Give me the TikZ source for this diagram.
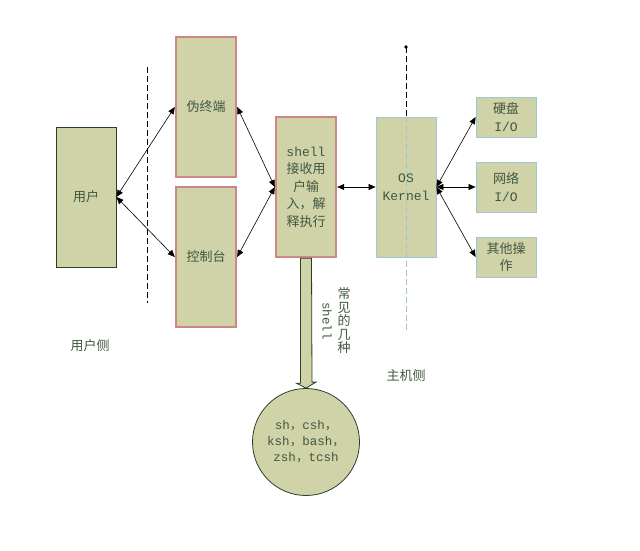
\documentclass[tikz,border=0pt]{standalone}
\usepackage{fontspec}
\newfontfamily\cjk{Noto Sans CJK SC}
\newfontfamily\mono{Liberation Mono}
\usetikzlibrary{arrows.meta}
\definecolor{boxfill}{RGB}{208,210,168}
\definecolor{darkline}{RGB}{38,66,38}
\definecolor{pinkline}{RGB}{204,136,134}
\definecolor{blueline}{RGB}{158,200,206}
\definecolor{txt}{RGB}{64,88,64}
\newcommand{\zc}{{\cjk ，}}

\begin{document}
\begin{tikzpicture}[x=1pt,y=-1pt]
      \tikzstyle{box}=[rectangle,draw=darkline,fill=boxfill,line width=0.8pt,minimum width=60pt,inner sep=0pt,text=txt,align=center,font=\fontsize{13}{17.5}\cjk]
      \tikzstyle{termbox}=[box,draw=pinkline,line width=2.4pt,minimum height=140pt]
      \tikzstyle{hostbox}=[box,draw=blueline]
      \tikzstyle{link}=[{Triangle[length=7pt,width=6pt]}-{Triangle[length=7pt,width=6pt]},line width=0.6pt]
      \tikzstyle{divider}=[dash pattern=on 6pt off 3pt,line width=0.8pt]
      \tikzstyle{note}=[text=txt,font=\fontsize{13}{13.5}\cjk,align=center,inner sep=0pt]
      \useasboundingbox (0,0) rectangle (640,550);
      % user side
      \node[box,minimum height=140pt] (user) at (86,197) {用户};
      \node[termbox] (pty) at (206,107) {伪终端};
      \node[termbox] (console) at (206,257) {控制台};
      \node[termbox] (shell) at (306,187) {{\mono shell}\\接收用\\户输\\入，解\\释执行};
      % host side
      \node[hostbox,minimum height=140pt] (kernel) at (406,187) {{\mono OS}\\{\mono Kernel}};
      \node[hostbox,minimum height=40pt] (disk) at (506,117) {硬盘\\{\mono I/O}};
      \node[hostbox,minimum height=50pt] (net) at (506,187) {网络\\{\mono I/O}};
      \node[hostbox,minimum height=40pt] (other) at (506,257) {其他操\\作};
      \draw[divider] (147,67) -- (147,303);
      \coordinate (top) at (406,47);
      \fill (top) circle (1.8);
      \draw[divider] (top) -- (kernel.north);
      \draw[divider,blueline] (kernel.north) -- (406,330);
      % links
      \draw[link] (user.east) -- (pty.west);
      \draw[link] (user.east) -- (console.west);
      \draw[link] (shell.west) -- (pty.east);
      \draw[link] (shell.west) -- (console.east);
      \draw[link] (shell.east) -- (kernel.west);
      \foreach \dev in {disk,net,other}
        \draw[link] (kernel.east) -- (\dev.west);
      % shells
      \node[circle,draw=darkline,fill=boxfill,line width=0.8pt,minimum size=107pt,inner sep=0pt,text=txt,align=center,font=\fontsize{12.5}{16}\mono] (ring) at (306,442) {sh\zc csh\zc\\ksh\zc bash\zc\\zsh\zc tcsh};
      \draw[darkline,fill=boxfill,line width=0.8pt] ([xshift=-5.5pt]shell.south) -- ++(0,125) -- ++(-4,0) -- (ring.north) -- ++(10,-6) -- ++(-4,0) -- ([xshift=5.5pt]shell.south) -- cycle;
      \node[note,rotate=-90,font=\fontsize{12.5}{13.5}\mono] (shellnote) at (327,321) {shell};
      \node[note] (kinds) at (344,321) {常\\见\\的\\几\\种};
      \node[note] (userside) at (90,346) {用户侧};
      \node[note] (hostside) at (406,376) {主机侧};
\end{tikzpicture}
\end{document}
